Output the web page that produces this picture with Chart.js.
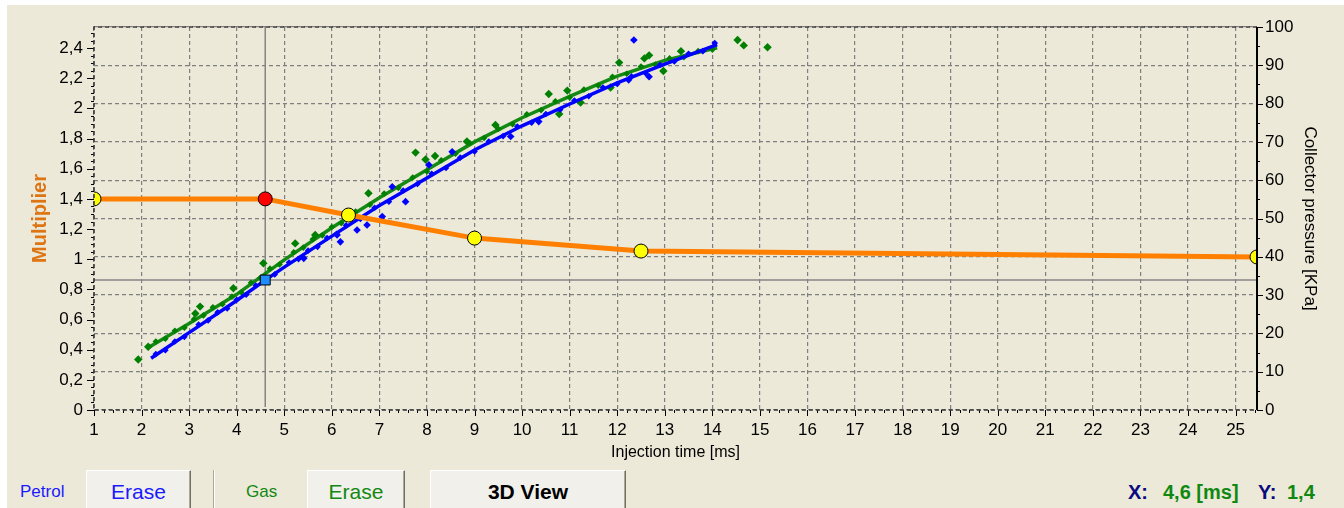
<!DOCTYPE html>
<html>
<head>
<meta charset="utf-8">
<script src="https://cdn.jsdelivr.net/npm/chart.js@4.4.1/dist/chart.umd.min.js"></script>
<style>
  body { margin: 0; background: #fff; width: 1344px; height: 508px; overflow: hidden; position: relative;
         font-family: "Liberation Sans", Arial, sans-serif; }
  #panel { position: absolute; left: 7px; top: 5px; right: 0; bottom: 0; background: #ECE9D8; }
  #wrap { position: absolute; left: 0; top: 0; width: 1344px; height: 470px; }
  .btn { position: absolute; top: 470px; height: 46px; box-sizing: border-box; background: #F1F0EA;
         border: 1px solid; border-color: #fff #716F64 #716F64 #fff; box-shadow: inset -1px -1px #ACA899;
         font-size: 21px; text-align: center; line-height: 42px; }
  .lbl { position: absolute; top: 482px; font-size: 17px; }
  .sep { position: absolute; left: 213px; top: 470px; width: 1px; height: 40px; background: #ACA899; border-right: 1px solid #fff; }
  .ro { position: absolute; top: 481px; font-size: 20px; font-weight: bold; }
</style>
</head>
<body>
<div id="panel"></div>
<div id="wrap"><canvas id="chart"></canvas></div>

<div class="lbl" style="left:20px;color:#1a1aff">Petrol</div>
<div class="btn" style="left:86px;width:105px;color:#1a1aff">Erase</div>
<div class="sep"></div>
<div class="lbl" style="left:246px;color:#118811">Gas</div>
<div class="btn" style="left:307px;width:98px;color:#118811">Erase</div>
<div class="btn" style="left:430px;width:196px;color:#000;font-weight:bold">3D View</div>

<div class="ro" style="left:1128px;color:#0a0a80">X:</div>
<div class="ro" id="roX" style="left:1163px;color:#118811"></div>
<div class="ro" style="left:1258px;color:#0a0a80">Y:</div>
<div class="ro" id="roY" style="left:1287px;color:#118811"></div>

<script>
// axis ranges
const xMin = 1, xMax = 25.45;
const multMin = 0, multMax = 2.54;
const kpaMin = 0, kpaMax = 100;

// cursor
const cursorX = 4.6;
const cursorMult = 0.862;
const cursorReadout = 1.4;

// multiplier curve (left axis)
const multX = [1, 4.6, 6.35, 9, 12.5, 25.45];
const multY = [1.4, 1.4, 1.293, 1.14, 1.054, 1.015];
const multColors = ["#FFFF00", "#FF0000", "#FFFF00", "#FFFF00", "#FFFF00", "#FFFF00"];

// petrol (blue) - collector pressure [KPa]
const petrolFitX = [2.2, 3, 4, 4.6, 5, 6, 7, 8, 9, 10, 11, 12, 13, 14.1];
const petrolFitY = [13.5, 20.2, 28.6, 33.9, 37.3, 45.4, 53.4, 60.6, 67.9, 74.2, 79.9, 85.4, 90.3, 95.4];
const petrolX = [2.3, 2.5, 2.7, 2.9, 3.2, 3.4, 3.6, 3.8, 4.0, 4.2, 4.4, 4.8, 5.1, 5.3, 5.5, 5.7, 5.9,
                 6.1, 6.3, 6.6, 6.9, 7.2, 7.5, 7.8, 8.1, 8.4, 8.7, 9.0, 9.3, 9.6, 9.9, 10.2, 10.5,
                 10.8, 11.1, 11.4, 11.7, 12.0, 12.3, 12.6, 12.9, 13.2, 13.5, 13.8, 14.05];
const petrolY = [14.6, 15.6, 17.9, 19.1, 22.3, 23.4, 25.5, 26.5, 28.8, 30.1, 32.5, 35.4, 38.5, 39.4,
                 41.6, 42.6, 44.9, 46.0, 48.2, 49.9, 52.8, 54.4, 57.3, 59.0, 61.7, 63.2, 65.9, 67.5,
                 70.1, 71.5, 74.0, 75.0, 77.3, 78.4, 80.8, 81.9, 84.2, 85.1, 87.1, 87.9, 90.1, 91.0,
                 93.0, 93.7, 95.8];
const petrolOutX = [12.35, 12.67, 12.24, 10.35, 7.55, 7.06, 6.74, 6.53, 6.18, 6.11, 7.27, 8.53, 8.04, 9.76, 5.41];
const petrolOutY = [96.6, 87.0, 86.2, 75.3, 54.4, 50.5, 48.3, 47.0, 43.9, 45.7, 58.3, 67.4, 64.0, 71.4, 39.6];

// gas (green) - collector pressure [KPa]
const gasFitX = [2.1, 3, 4, 4.6, 5, 6, 7, 8, 9, 10, 11, 12, 13, 14.1];
const gasFitY = [16.0, 22.6, 30.2, 35.6, 39.2, 47.6, 55.4, 62.7, 70.0, 76.3, 81.9, 87.2, 91.3, 94.6];
const gasX = [2.3, 2.5, 2.7, 2.9, 3.1, 3.3, 3.5, 3.7, 3.9, 4.1, 4.3, 4.5, 4.7, 4.9, 5.2, 5.4, 5.6,
              5.8, 6.0, 6.2, 6.5, 6.8, 7.1, 7.4, 7.7, 8.0, 8.3, 8.6, 8.9, 9.2, 9.5, 9.8, 10.1, 10.4,
              10.7, 11.0, 11.3, 11.6, 11.9, 12.2, 12.5, 12.8, 13.1, 13.4, 13.7, 14.0];
const gasY = [17.9, 18.6, 20.7, 21.5, 23.7, 24.7, 26.8, 27.6, 29.6, 30.7, 33.2, 34.5, 36.9, 38.0,
              41.2, 42.4, 44.6, 45.6, 47.8, 48.8, 51.8, 53.6, 56.5, 58.0, 60.7, 62.3, 65.2, 66.9,
              69.7, 71.0, 73.4, 74.6, 77.2, 78.3, 80.6, 81.6, 83.7, 84.7, 87.0, 87.8, 89.7, 90.2,
              91.8, 92.1, 93.7, 94.1];
const gasOutX = [14.53, 14.66, 15.16, 13.34, 12.57, 12.67, 12.04, 12.97, 10.56, 10.95, 11.23, 10.78,
                 11.86, 7.76, 7.97, 8.17, 8.84, 9.44, 6.77, 4.56, 3.93, 3.23, 3.13, 1.93, 2.14, 5.23, 5.65];
const gasOutY = [96.6, 95.2, 94.7, 93.7, 91.8, 92.6, 90.7, 88.5, 82.5, 83.4, 80.3, 77.3,
                 84.2, 67.2, 65.4, 66.3, 70.1, 74.4, 56.6, 38.3, 31.8, 27.0, 25.2, 13.2, 16.5, 43.5, 45.7];

const pts = (xs, ys) => xs.map((x, i) => ({ x: x, y: ys[i] }));
const comma = v => String(Math.round(v * 100) / 100).replace(".", ",");

document.getElementById("roX").textContent = comma(cursorX) + " [ms]";
document.getElementById("roY").textContent = comma(cursorReadout);

const GRID = "#7f7f7f";

// frame, minor ticks and crosshair
const framePlugin = {
    id: "frame",
    beforeDatasetsDraw(chart) {
        const { ctx, chartArea: a, scales } = chart;
        const cx = scales.x.getPixelForValue(cursorX);
        const cy = scales.y.getPixelForValue(cursorMult);
        ctx.save();
        ctx.strokeStyle = "#858585";
        ctx.lineWidth = 1.5;
        ctx.beginPath();
        ctx.moveTo(cx, a.top); ctx.lineTo(cx, a.bottom - 3);
        ctx.moveTo(a.left, cy); ctx.lineTo(a.right, cy);
        ctx.stroke();
        ctx.restore();
    },
    afterDatasetsDraw(chart) {
        const { ctx, chartArea: a, scales } = chart;
        ctx.save();
        ctx.strokeStyle = "#000";
        ctx.lineWidth = 1;
        ctx.beginPath();
        for (let i = 0; i <= 50; i++) {
            const py = Math.round(scales.y.getPixelForValue(i * 0.05)) + 0.5;
            ctx.moveTo(a.left, py); ctx.lineTo(a.left - (i % 4 === 0 ? 7 : 3), py);
        }
        for (let i = 0; i <= 122; i++) {
            const px = Math.round(scales.x.getPixelForValue(xMin + i * 0.2)) + 0.5;
            ctx.moveTo(px, a.bottom); ctx.lineTo(px, a.bottom + (i % 5 === 0 ? 6 : 3));
        }
        for (let i = 0; i <= 20; i++) {
            const py = Math.round(scales.yp.getPixelForValue(i * 5)) + 0.5;
            ctx.moveTo(a.right, py); ctx.lineTo(a.right + (i % 2 === 0 ? 6 : 3), py);
        }
        ctx.stroke();

        ctx.strokeStyle = "#3a3a3a";
        ctx.lineWidth = 1.6;
        ctx.setLineDash([4, 3]);
        ctx.beginPath();
        ctx.moveTo(a.right, a.top); ctx.lineTo(a.left, a.top);
        ctx.lineTo(a.left, a.bottom); ctx.lineTo(a.right, a.bottom);
        ctx.stroke();
        ctx.setLineDash([]);
        ctx.strokeStyle = "#000";
        ctx.lineWidth = 2;
        ctx.beginPath();
        ctx.moveTo(a.right, a.top); ctx.lineTo(a.right, a.bottom);
        ctx.stroke();
        ctx.restore();
    }
};

new Chart(document.getElementById("chart"), {
    type: "scatter",
    data: {
        datasets: [
            {
                data: [{ x: cursorX, y: cursorMult }], yAxisID: "y",
                pointStyle: "rect", pointRadius: 7,
                backgroundColor: "#1E8CFF", borderColor: "#000", borderWidth: 1
            },
            {
                data: pts(multX, multY), yAxisID: "y", showLine: true, clip: 0,
                borderColor: "#FF8000", borderWidth: 5,
                pointRadius: 7, pointBackgroundColor: multColors,
                pointBorderColor: "#000", pointBorderWidth: 1
            },
            {
                data: pts(petrolOutX, petrolOutY), yAxisID: "yp",
                pointStyle: "rectRot", pointRadius: 3.8,
                backgroundColor: "#0000FF", borderColor: "#0000FF", borderWidth: 0
            },
            {
                data: pts(petrolX, petrolY), yAxisID: "yp",
                pointStyle: "rectRot", pointRadius: 3.3,
                backgroundColor: "#0000FF", borderColor: "#0000FF", borderWidth: 0
            },
            {
                data: pts(petrolFitX, petrolFitY), yAxisID: "yp", showLine: true,
                borderColor: "#0000FF", borderWidth: 3.5, pointRadius: 0
            },
            {
                data: pts(gasOutX, gasOutY), yAxisID: "yp",
                pointStyle: "rectRot", pointRadius: 4.2,
                backgroundColor: "#008000", borderColor: "#008000", borderWidth: 0
            },
            {
                data: pts(gasX, gasY), yAxisID: "yp",
                pointStyle: "rectRot", pointRadius: 3.3,
                backgroundColor: "#008000", borderColor: "#008000", borderWidth: 0
            },
            {
                data: pts(gasFitX, gasFitY), yAxisID: "yp", showLine: true,
                borderColor: "#148A14", borderWidth: 3.5, pointRadius: 0
            }
        ]
    },
    options: {
        responsive: true,
        maintainAspectRatio: false,
        animation: false,
        events: [],
        layout: { padding: { top: 27, left: 0, right: 0, bottom: 0 } },
        plugins: { legend: { display: false }, tooltip: { enabled: false } },
        scales: {
            x: {
                type: "linear", position: "bottom", min: xMin, max: xMax,
                afterFit: s => { s.height = 60; },
                ticks: { stepSize: 1, includeBounds: false, color: "#000", padding: 10,
                         font: { family: "Liberation Sans", size: 17 } },
                grid: { color: GRID, lineWidth: 1.2, drawTicks: false },
                border: { display: false, dash: [4, 3] },
                title: { display: true, text: "Injection time [ms]", color: "#000",
                         font: { family: "Liberation Sans", size: 16 }, padding: { top: 0, bottom: 8 } }
            },
            y: {
                type: "linear", position: "left", min: multMin, max: multMax,
                afterFit: s => { s.width = 94; },
                ticks: { stepSize: 0.2, includeBounds: false, color: "#000", padding: 11,
                         font: { family: "Liberation Sans", size: 17 }, callback: v => comma(v) },
                grid: { display: false, drawTicks: false },
                border: { display: false },
                title: { display: true, text: "Multiplier", color: "#DD7514",
                         font: { family: "Liberation Sans", size: 20, weight: "bold" }, padding: { top: 28 } }
            },
            yp: {
                type: "linear", position: "right", min: kpaMin, max: kpaMax,
                afterFit: s => { s.width = 87; },
                ticks: { stepSize: 10, includeBounds: false, color: "#000", padding: 8,
                         font: { family: "Liberation Sans", size: 17 } },
                grid: { color: GRID, lineWidth: 1.2, drawTicks: false },
                border: { display: false, dash: [4, 3] },
                title: { display: true, text: "Collector pressure [KPa]", color: "#000",
                         font: { family: "Liberation Sans", size: 17 }, padding: { top: 24 } }
            }
        }
    },
    plugins: [framePlugin]
});
</script>
</body>
</html>
